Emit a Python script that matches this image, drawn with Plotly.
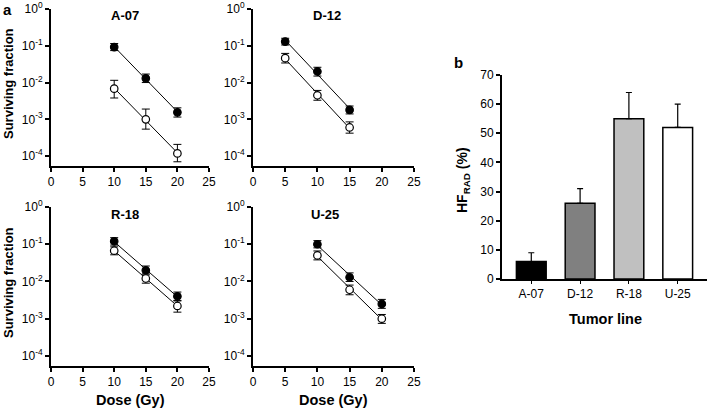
import numpy as np
import plotly.graph_objects as go

# ---------------- data ----------------
lines = ["A-07", "D-12", "R-18", "U-25"]

dose = {
    "A-07": [10, 15, 20],
    "D-12": [5, 10, 15],
    "R-18": [10, 15, 20],
    "U-25": [10, 15, 20],
}
# filled symbols
sf_filled = {
    "A-07": [0.092, 0.013, 0.00155],
    "D-12": [0.13, 0.020, 0.0018],
    "R-18": [0.12, 0.020, 0.0040],
    "U-25": [0.10, 0.013, 0.0025],
}
sf_filled_up = {
    "A-07": [0.023, 0.004, 0.0005],
    "D-12": [0.03, 0.006, 0.0005],
    "R-18": [0.03, 0.006, 0.0012],
    "U-25": [0.025, 0.004, 0.0008],
}
sf_filled_dn = {
    "A-07": [0.018, 0.003, 0.0004],
    "D-12": [0.025, 0.005, 0.0004],
    "R-18": [0.025, 0.005, 0.0009],
    "U-25": [0.02, 0.003, 0.0006],
}
# open symbols
sf_open = {
    "A-07": [0.0068, 0.0010, 0.000118],
    "D-12": [0.046, 0.0045, 0.00060],
    "R-18": [0.067, 0.012, 0.0022],
    "U-25": [0.050, 0.0060, 0.0010],
}
sf_open_up = {
    "A-07": [0.0047, 0.0009, 0.00009],
    "D-12": [0.016, 0.0016, 0.00025],
    "R-18": [0.018, 0.004, 0.0008],
    "U-25": [0.016, 0.002, 0.0003],
}
sf_open_dn = {
    "A-07": [0.003, 0.00046, 0.000048],
    "D-12": [0.012, 0.0012, 0.00018],
    "R-18": [0.015, 0.003, 0.0007],
    "U-25": [0.012, 0.0016, 0.00025],
}

hf_values = [6, 26, 55, 52]
hf_err = [3, 5, 9, 8]
hf_colors = ["#000000", "#808080", "#c0c0c0", "#ffffff"]

x_ticks = [0, 5, 10, 15, 20, 25]
y_tickvals = [1, 0.1, 0.01, 0.001, 0.0001]
y_ticktext = ["10<sup>0</sup>", "10<sup>-1</sup>", "10<sup>-2</sup>", "10<sup>-3</sup>", "10<sup>-4</sup>"]
hf_ticks = [0, 10, 20, 30, 40, 50, 60, 70]

# ---------------- layout geometry ----------------
W, H = 709, 409
FONT = "Liberation Sans, Arial, sans-serif"

def px_x(a, b):
    return [a / W, b / W]

def px_y(top, bottom):
    return [1 - bottom / H, 1 - top / H]

panels = {
    "A-07": (px_x(51, 209), px_y(9, 166)),
    "D-12": (px_x(253, 414), px_y(9, 166)),
    "R-18": (px_x(51, 209), px_y(207, 366)),
    "U-25": (px_x(253, 414), px_y(207, 366)),
}
title_pos = {"A-07": (125, 15), "D-12": (327, 15), "R-18": (125, 214), "U-25": (325, 214)}

fig = go.Figure()
layout = dict(
    width=W, height=H,
    margin=dict(l=0, r=0, t=0, b=0, autoexpand=False),
    paper_bgcolor="white", plot_bgcolor="white",
    showlegend=False,
    font=dict(family=FONT, size=11, color="black"),
)

axis_common = dict(
    showline=True, linecolor="black", linewidth=2, ticks="outside",
    tickcolor="black", showgrid=False, zeroline=False, automargin=False,
    tickfont=dict(size=12), ticklabeloverflow="allow",
)

annotations = []
for i, name in enumerate(lines):
    idx = i + 1
    xa = "x" if idx == 1 else f"x{idx}"
    ya = "y" if idx == 1 else f"y{idx}"
    xd, yd = panels[name]
    layout["xaxis" if idx == 1 else f"xaxis{idx}"] = dict(
        domain=xd, anchor=ya, range=[0, 25], tickvals=x_ticks,
        ticklen=4, tickwidth=1.5, **axis_common,
    )
    layout["yaxis" if idx == 1 else f"yaxis{idx}"] = dict(
        domain=yd, anchor=xa, type="log", range=[-4.27, 0],
        tickvals=y_tickvals, ticktext=y_ticktext,
        ticklen=4, tickwidth=1.5, **axis_common,
    )
    x = np.array(dose[name], dtype=float)
    for vals, up, dn, fill in [
        (sf_filled[name], sf_filled_up[name], sf_filled_dn[name], "black"),
        (sf_open[name], sf_open_up[name], sf_open_dn[name], "white"),
    ]:
        v = np.array(vals)
        b, a = np.polyfit(x, np.log10(v), 1)
        xf = np.array([x.min(), x.max()])
        fig.add_trace(go.Scatter(
            x=xf, y=10 ** (a + b * xf), mode="lines",
            line=dict(color="black", width=1), xaxis=xa, yaxis=ya,
            hoverinfo="skip", cliponaxis=False,
        ))
        fig.add_trace(go.Scatter(
            x=x, y=v, mode="markers",
            marker=dict(size=7.5, color=fill, line=dict(color="black", width=1.2)),
            error_y=dict(type="data", symmetric=False, array=up, arrayminus=dn,
                         color="black", thickness=1, width=4),
            xaxis=xa, yaxis=ya, cliponaxis=False,
        ))
    tx, ty = title_pos[name]
    annotations.append(dict(
        text=f"<b>{name}</b>", x=tx / W, y=1 - ty / H, xref="paper", yref="paper",
        xanchor="center", yanchor="middle", showarrow=False, font=dict(size=13),
    ))

# Bar panel
layout["xaxis5"] = dict(
    domain=px_x(502, 707), anchor="y5", range=[-0.6, 3.6],
    tickvals=[0, 1, 2, 3], ticktext=lines,
    ticklen=3, tickwidth=1, **axis_common,
)
layout["yaxis5"] = dict(
    domain=px_y(75, 279), anchor="x5", range=[0, 70], tickvals=hf_ticks,
    ticklen=4, tickwidth=1.5, **axis_common,
)
fig.add_trace(go.Bar(
    x=[0, 1, 2, 3], y=hf_values, width=0.61,
    marker=dict(color=hf_colors, line=dict(color="black", width=1.5)),
    error_y=dict(type="data", symmetric=False, array=hf_err, arrayminus=[0, 0, 0, 0],
                 color="black", thickness=1.2, width=3),
    xaxis="x5", yaxis="y5",
))

# Axis labels and panel letters
for yc in [(1 - 84 / H), (1 - 283 / H)]:
    annotations.append(dict(
        text="<b>Surviving fraction</b>", x=8 / W, y=yc, xref="paper", yref="paper",
        textangle=-90, showarrow=False, xanchor="center", yanchor="middle",
        font=dict(size=13),
    ))
for xc in [130 / W, 333 / W]:
    annotations.append(dict(
        text="<b>Dose (Gy)</b>", x=xc, y=1 - 400 / H, xref="paper", yref="paper",
        showarrow=False, xanchor="center", yanchor="middle", font=dict(size=14.5),
    ))
annotations.append(dict(
    text="<b>Tumor line</b>", x=605 / W, y=1 - 319 / H, xref="paper", yref="paper",
    showarrow=False, xanchor="center", yanchor="middle", font=dict(size=14.5),
))
annotations.append(dict(
    text="<b>HF<sub>RAD</sub> (%)</b>", x=463 / W, y=1 - 180 / H, xref="paper", yref="paper",
    textangle=-90, showarrow=False, xanchor="center", yanchor="middle", font=dict(size=14),
))
annotations.append(dict(
    text="<b>a</b>", x=7 / W, y=1 - 9 / H, xref="paper", yref="paper",
    showarrow=False, xanchor="center", yanchor="middle", font=dict(size=15),
))
annotations.append(dict(
    text="<b>b</b>", x=458 / W, y=1 - 62 / H, xref="paper", yref="paper",
    showarrow=False, xanchor="center", yanchor="middle", font=dict(size=15),
))
layout["annotations"] = annotations
fig.update_layout(**layout)
fig.write_html(
    "out.html",
    config={"displayModeBar": False},
    post_script="document.body.style.margin='0';document.body.style.overflow='hidden';",
)
